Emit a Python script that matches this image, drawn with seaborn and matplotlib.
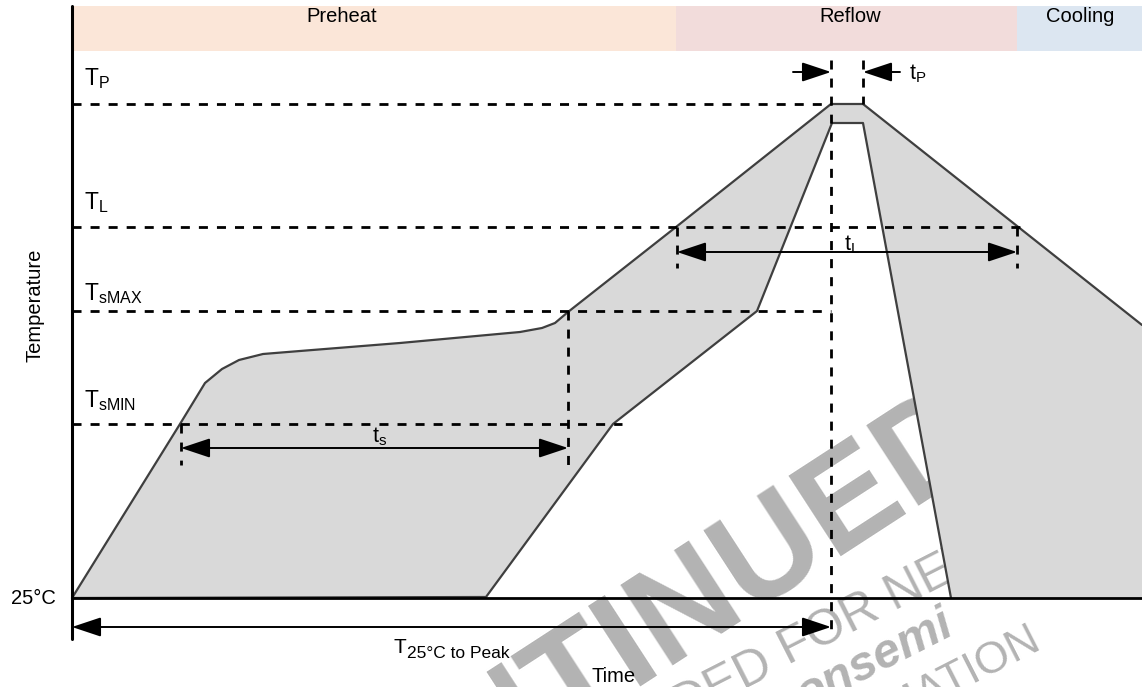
import matplotlib
matplotlib.use('Agg')
import matplotlib.pyplot as plt
import seaborn as sns

# ==================== ДАННЫЕ ====================
# время по оси X, температура по оси Y (условные единицы схемы)
T_25 = 89
T_SMIN = 263
T_SMAX = 376
T_L = 460
T_P = 583
T_P_INNER = 564

# быстрый профиль (левая/верхняя граница окна)
fast_time = [72, 180, 205, 222, 239, 263, 300, 400, 520, 542, 555, 568, 676, 831, 863, 1142]
fast_temp = [89, 263, 304, 318, 327, 333, 336, 344, 355, 359, 364, 375, 460, 583, 583, 362]
# медленный профиль (правая/нижняя граница окна)
slow_time = [72, 486, 613, 757, 832, 863, 951]
slow_temp = [89, 90, 263, 376, 564, 564, 89]

zone_names = ['Preheat', 'Reflow', 'Cooling']
zone_edges = [72, 676, 1017, 1142]
zone_colors = ['#FBE6D8', '#F2DCDB', '#DCE6F1']

level_labels = [r'$\mathregular{T_{P}}$', r'$\mathregular{T_{L}}$',
                r'$\mathregular{T_{sMAX}}$', r'$\mathregular{T_{sMIN}}$']
level_values = [T_P, T_L, T_SMAX, T_SMIN]
level_ends = [831, 1028, 831, 622]

# ==================== ОФОРМЛЕНИЕ ====================
sns.set_theme(style='white')
plt.rcParams['font.family'] = ['Liberation Sans', 'DejaVu Sans']
plt.rcParams['mathtext.default'] = 'regular'
plt.rcParams['text.color'] = 'black'

fig = plt.figure(figsize=(11.42, 6.87), dpi=100)
ax = fig.add_axes([0, 0, 1, 1])
ax.set_xlim(0, 1142)
ax.set_ylim(0, 687)
ax.set_axis_off()

DASH = (0, (3.25, 3.25))
LINE_C = '#3F3F3F'

# водяной знак (под всем остальным)
wm = '#B3B3B3'
ax.text(994, 236, 'DISCONTINUED', rotation=33, rotation_mode='anchor',
        ha='right', va='baseline', fontsize=100, fontweight='bold', color=wm, zorder=0)
ax.text(788, 22, 'FOR NEW DESIGN', rotation=27, rotation_mode='anchor',
        ha='left', va='baseline', fontsize=36, color=wm, zorder=0)
ax.text(776, 16, 'RECOMMENDED', rotation=27, rotation_mode='anchor',
        ha='right', va='baseline', fontsize=36, color=wm, zorder=0)
ax.text(956, 54, 'onsemi', rotation=27, rotation_mode='anchor',
        ha='right', va='baseline', fontsize=35, fontweight='bold', fontstyle='italic',
        color=wm, zorder=0)
ax.text(1043, 41, 'INFORMATION', rotation=27, rotation_mode='anchor',
        ha='right', va='baseline', fontsize=32, color=wm, zorder=0)

# зоны сверху
zone_label_x = [342, 850, 1080]
for name, x0, x1, c, lx in zip(zone_names, zone_edges[:-1], zone_edges[1:], zone_colors, zone_label_x):
    ax.fill_between([x0, x1], 636, 681, color=c, lw=0, zorder=1)
    ax.text(lx, 671, name, ha='center', va='center', fontsize=14.5, zorder=6)

# окно профиля
poly_x = fast_time + [1142] + slow_time[::-1]
poly_y = fast_temp + [T_25] + slow_temp[::-1]
ax.fill(poly_x, poly_y, color='#D9D9D9', lw=0, zorder=2)
sns.lineplot(x=fast_time, y=fast_temp, sort=False, estimator=None,
             color=LINE_C, lw=1.6, ax=ax, zorder=3)
sns.lineplot(x=slow_time, y=slow_temp, sort=False, estimator=None,
             color=LINE_C, lw=1.6, ax=ax, zorder=3)

# оси
ax.plot([72, 72], [48, 681], color='black', lw=2.2, zorder=5)
ax.plot([72, 1142], [T_25, T_25], color='black', lw=2.0, zorder=5)

# горизонтальные уровни
for lab, val, xe in zip(level_labels, level_values, level_ends):
    ax.plot([72, xe], [val, val], color='black', lw=2.0, ls=DASH, zorder=4)

label_base = [602, 478, 387, 280]
for lab, yb in zip(level_labels, label_base):
    ax.text(84, yb, lab, ha='left', va='baseline', fontsize=16.5, zorder=6)

# вертикальные метки
vmarks = [(181, T_SMIN, 222), (568, T_SMAX, 222), (677, T_L, 419),
          (1017, T_L, 419), (831, 627, 55), (863, 627, T_P)]
for x, y0, y1 in vmarks:
    ax.plot([x, x], [y0, y1], color='black', lw=2.0, ls=DASH, zorder=4)


def span_arrow(x0, x1, y, style='<|-|>'):
    ax.annotate('', xy=(x1, y), xytext=(x0, y),
                arrowprops=dict(arrowstyle=f'{style},head_length=0.9,head_width=0.3',
                                mutation_scale=20, color='black', lw=1.4,
                                shrinkA=0, shrinkB=0), zorder=6)


span_arrow(181, 568, 239)
span_arrow(677, 1017, 435)
span_arrow(72, 831, 60)
span_arrow(793, 831, 615, '-|>')
span_arrow(900, 863, 615, '-|>')

# подписи интервалов
ax.text(909, 608, r'$\mathregular{t_{P}}$', ha='left', va='baseline', fontsize=15.5, zorder=6)
ax.text(844, 437, r'$\mathregular{t_{L}}$', ha='left', va='baseline', fontsize=15.5, zorder=6)
ax.text(372, 245, r'$\mathregular{t_{s}}$', ha='left', va='baseline', fontsize=15.5, zorder=6)
ax.text(394, 34, 'T', ha='left', va='baseline', fontsize=15, zorder=6)
ax.text(407, 29, '25°C to Peak', ha='left', va='baseline', fontsize=12.5, zorder=6)

ax.text(56, T_25, '25°C', ha='right', va='center', fontsize=14.5, zorder=6)
ax.text(35, 382, 'Temperature', rotation=90, ha='center', va='center', fontsize=14.5, zorder=6)
ax.text(614, 5, 'Time', ha='center', va='baseline', fontsize=14.5, zorder=6)

plt.savefig('out.png', dpi=100)
